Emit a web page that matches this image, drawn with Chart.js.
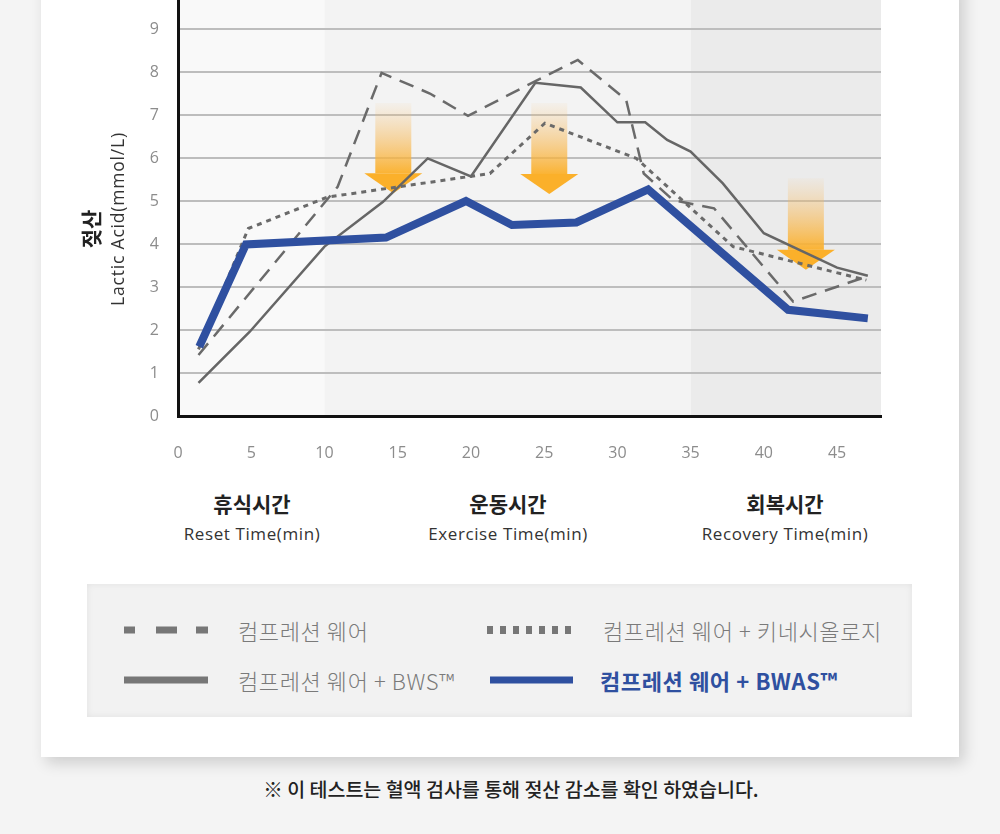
<!DOCTYPE html>
<html><head><meta charset="utf-8">
<script src="https://cdn.jsdelivr.net/npm/chart.js@4.4.1/dist/chart.umd.min.js"></script>
<style>
html,body{margin:0;padding:0;}
body{width:1000px;height:834px;background:#f4f4f4;position:relative;overflow:hidden;font-family:"Noto Sans CJK KR","Noto Sans",sans-serif;}
#card{position:absolute;left:41px;top:-20px;width:918px;height:777px;background:#fff;box-shadow:5px 6px 14px rgba(0,0,0,0.16);}
#cv{position:absolute;left:0;top:0;}
.abs{position:absolute;white-space:nowrap;}
.rot{transform:translate(-50%,-50%) rotate(-90deg);}
.cat{transform:translate(-50%,-50%);text-align:center;}
#legend{position:absolute;left:87px;top:584px;width:825px;height:133px;background:#f2f2f2;box-shadow:inset 0 0 7px rgba(0,0,0,0.07);}
.lt{position:absolute;font-size:22px;color:#7a7a7a;transform:translateY(-50%);line-height:1;font-weight:300;letter-spacing:0.6px;}
.sw{position:absolute;transform:translateY(-50%);}
.en{font-family:'Open Sans',sans-serif;letter-spacing:0.6px;}
</style></head>
<body>
<div id="card"></div>
<canvas id="cv" width="1000" height="480"></canvas>
<div class="abs rot" style="left:90px;top:229px;font-size:21px;font-weight:700;color:#222;">젖산</div>
<div class="abs rot en" style="left:117px;top:219px;font-size:17.5px;color:#333;letter-spacing:0.8px;">Lactic Acid(mmol/L)</div>
<div id="cats"></div>
<div id="legend"></div>
<div class="abs cat" style="left:511px;top:788px;font-size:19.5px;color:#222;font-weight:500;">※ 이 테스트는 혈액 검사를 통해 젖산 감소를 확인 하였습니다.</div>
<script>
// ---- data ----
const seriesNames = ['컴프레션 웨어', '컴프레션 웨어 + 키네시올로지', '컴프레션 웨어 + BWS™', '컴프레션 웨어 + BWAS™'];
const dashX = [1.4, 10.9, 13.9, 17.2, 19.8, 23.9, 27.3, 30.6, 31.8, 33.8, 36.6, 42.0, 47.0];
const dashY = [1.42, 5.33, 7.98, 7.5, 6.98, 7.70, 8.28, 7.35, 5.64, 5.02, 4.83, 2.66, 3.24];
const dotX = [1.4, 4.8, 10.2, 19.9, 21.3, 25.05, 31.3, 37.9, 47.0];
const dotY = [1.55, 4.36, 5.09, 5.57, 5.64, 6.81, 5.99, 3.94, 3.16];
const bwsX = [1.4, 4.9, 10.0, 14.0, 17.05, 20.0, 24.4, 27.5, 30.0, 31.9, 33.4, 35.0, 37.2, 40.0, 45.0, 47.1];
const bwsY = [0.77, 1.96, 3.94, 4.98, 5.99, 5.57, 7.75, 7.64, 6.83, 6.83, 6.42, 6.15, 5.41, 4.25, 3.45, 3.26];
const bwasX = [1.45, 4.64, 14.2, 19.66, 22.8, 27.2, 32.1, 41.66, 47.1];
const bwasY = [1.61, 3.99, 4.15, 5.0, 4.44, 4.5, 5.27, 2.47, 2.27];
const xTicks = [0, 5, 10, 15, 20, 25, 30, 35, 40, 45];
const yTicks = [0, 1, 2, 3, 4, 5, 6, 7, 8, 9];
const phaseNames = ['휴식시간', '운동시간', '회복시간'];
const phaseSubs = ['Reset Time(min)', 'Exercise Time(min)', 'Recovery Time(min)'];
const phaseBounds = [0, 10, 35, 48];
const arrowX = [14.7, 25.35, 42.87];
const arrowTop = [7.28, 7.28, 5.53];
const arrowTip = [5.18, 5.16, 3.40];

const pts = (xs, ys) => xs.map((x, i) => ({x, y: ys[i]}));

const bandPlugin = {
  id: 'bands',
  beforeDraw(chart) {
    const {ctx, chartArea, scales: {x}} = chart;
    const cols = ['#f9f9f9', '#f3f3f3', '#ebebeb'];
    ctx.save();
    for (let i = 0; i < 3; i++) {
      const a = x.getPixelForValue(phaseBounds[i]), b = x.getPixelForValue(phaseBounds[i + 1]);
      ctx.fillStyle = cols[i];
      ctx.fillRect(a, chartArea.top, b - a, chartArea.bottom - chartArea.top);
    }
    ctx.restore();
  }
};
const arrowPlugin = {
  id: 'arrows',
  beforeDatasetsDraw(chart) {
    const {ctx, scales: {x, y}} = chart;
    const sw = 18, hw = 29, hh = 20;
    ctx.save();
    arrowX.forEach((v, i) => {
      const cx = x.getPixelForValue(v), t = y.getPixelForValue(arrowTop[i]), p = y.getPixelForValue(arrowTip[i]);
      const hs = p - hh;
      const g = ctx.createLinearGradient(0, t, 0, hs);
      g.addColorStop(0, 'rgba(247,190,110,0.06)');
      g.addColorStop(0.5, 'rgba(248,183,80,0.5)');
      g.addColorStop(1, 'rgba(251,176,42,0.95)');
      ctx.fillStyle = g;
      ctx.fillRect(cx - sw, t, sw * 2, hs - t);
      ctx.fillStyle = '#fbb02a';
      ctx.beginPath();
      ctx.moveTo(cx - hw, hs); ctx.lineTo(cx + hw, hs); ctx.lineTo(cx, p); ctx.closePath();
      ctx.fill();
    });
    ctx.restore();
  }
};

const tickFont = {family: "'Open Sans', sans-serif", size: 16};
new Chart(document.getElementById('cv'), {
  type: 'line',
  data: {
    datasets: [
      {label: seriesNames[0], data: pts(dashX, dashY), borderColor: '#6a6a6a', borderWidth: 2.5, borderDash: [15, 9], order: 4},
      {label: seriesNames[1], data: pts(dotX, dotY), borderColor: '#6a6a6a', borderWidth: 3, borderDash: [5, 5], order: 3},
      {label: seriesNames[2], data: pts(bwsX, bwsY), borderColor: '#666', borderWidth: 2.5, order: 2},
      {label: seriesNames[3], data: pts(bwasX, bwasY), borderColor: '#2f50a0', borderWidth: 8, order: 1, borderJoinStyle: 'miter'}
    ]
  },
  options: {
    responsive: false, animation: false,
    elements: {point: {radius: 0}, line: {tension: 0, fill: false}},
    layout: {padding: {left: 0, top: 0, right: 119, bottom: 0}},
    plugins: {legend: {display: false}, tooltip: {enabled: false}},
    scales: {
      x: {
        type: 'linear', min: 0, max: 48,
        afterBuildTicks(s) { s.ticks = xTicks.map(v => ({value: v})); },
        afterFit(s) { s.height = 64; s.paddingLeft = 0; s.paddingRight = 0; },
        ticks: {font: tickFont, color: '#8c8c8c', padding: 28, maxRotation: 0, autoSkip: false},
        grid: {display: false, drawTicks: false},
        border: {color: '#111', width: 3}
      },
      y: {
        min: 0, max: 416 / 43,
        afterBuildTicks(s) { s.ticks = yTicks.map(v => ({value: v})); },
        afterFit(s) { s.width = 178; s.paddingTop = 0; s.paddingBottom = 0; },
        ticks: {font: tickFont, color: '#8c8c8c', padding: 19},
        grid: {color: '#bdbdbd', lineWidth: 2, drawTicks: false},
        border: {color: '#111', width: 3}
      }
    }
  },
  plugins: [bandPlugin, arrowPlugin]
});

// category labels
const catCenters = [252, 508, 785];
const cats = document.getElementById('cats');
phaseNames.forEach((n, i) => {
  cats.insertAdjacentHTML('beforeend',
    `<div class="abs cat" style="left:${catCenters[i]}px;top:503px;font-size:21px;font-weight:700;color:#222;">${n}</div>` +
    `<div class="abs cat en" style="left:${catCenters[i]}px;top:533px;font-size:17px;color:#333;">${phaseSubs[i]}</div>`);
});

// legend
const lg = document.getElementById('legend');
const L = 87, T = 584;
const items = [
  {sx: 124, tx: 238, y: 630, kind: 'dash'},
  {sx: 487, tx: 603, y: 630, kind: 'dot'},
  {sx: 124, tx: 238, y: 680, kind: 'solid'},
  {sx: 490, tx: 600, y: 680, kind: 'blue'}
];
items.forEach((it, i) => {
  let sw = '';
  const top = it.y - T, left = it.sx - L;
  if (it.kind === 'dash') {
    sw = `<div class="sw" style="left:${left}px;top:${top}px;width:84px;height:7px;background:linear-gradient(90deg,#777 0 11px,transparent 11px 32px,#777 32px 53px,transparent 53px 72px,#777 72px 84px);"></div>`;
  } else if (it.kind === 'dot') {
    sw = `<div class="sw" style="left:${left}px;top:${top}px;width:86px;height:8px;background:repeating-linear-gradient(90deg,#777 0 6px,transparent 6px 13px);"></div>`;
  } else if (it.kind === 'solid') {
    sw = `<div class="sw" style="left:${left}px;top:${top}px;width:84px;height:7px;background:#777;"></div>`;
  } else {
    sw = `<div class="sw" style="left:${left}px;top:${top}px;width:83px;height:7px;background:#2f50a0;"></div>`;
  }
  const st = it.kind === 'blue' ? 'color:#2f50a0;font-weight:700;' : '';
  lg.insertAdjacentHTML('beforeend', sw + `<div class="lt" style="left:${it.tx - L}px;top:${top}px;${st}">${seriesNames[i]}</div>`);
});
</script>
</body></html>
